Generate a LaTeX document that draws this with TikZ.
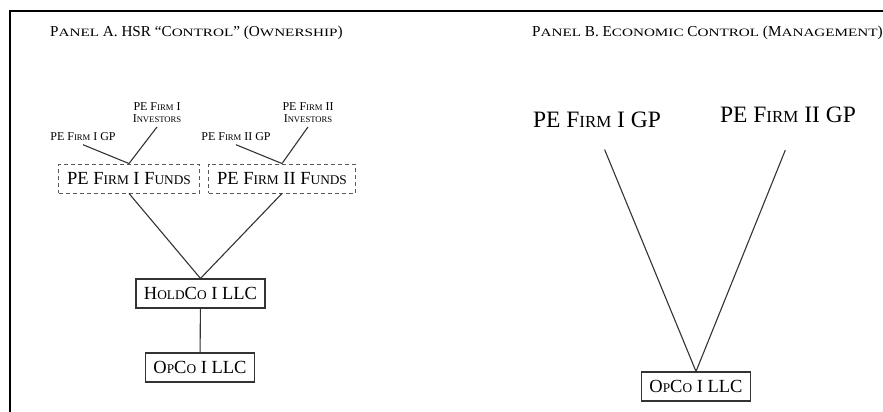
\documentclass[tikz,border=0pt]{standalone}
\usepackage{fontspec}
\setmainfont{Liberation Serif}
\newfontfamily\widesc[FakeStretch=1.35]{Liberation Serif}
\usepackage{tikz}
\usetikzlibrary{positioning}

% faked small capitals (lower part of a word set smaller)
\makeatletter
\newcommand\lowsc[1]{{\fontsize{\fpeval{0.72*\f@size}}{0}\selectfont #1}}
\newcommand\titlesc[1]{{\widesc\fontsize{\fpeval{0.74*\f@size}}{0}\selectfont #1}}
\makeatother

\tikzset{
  fundbox/.style={draw=black!65,dash pattern=on 4pt off 3pt,line width=0.9pt,
                  inner xsep=8.5pt,minimum height=29pt,font=\fontsize{18.5}{21}\selectfont},
  entbox/.style={draw=black!80,line width=1.1pt,inner xsep=8pt,minimum height=29pt,
                 font=\fontsize{18.5}{21}\selectfont},
  smalllbl/.style={font=\fontsize{12}{12.5}\selectfont,align=center,inner sep=4pt},
  biglbl/.style={font=\fontsize{23.5}{25}\selectfont,inner sep=3pt},
  paneltitle/.style={font=\fontsize{15.2}{17}\selectfont,inner sep=0pt},
  link/.style={black!80,line width=1.1pt}
}

\begin{document}
\begin{tikzpicture}[x=1pt,y=-1pt]
  \useasboundingbox (0,0) rectangle (883,412);
  \draw[line width=2pt] (9.5,412) -- (9.5,11) -- (883,11);

  % panel A
  \node[paneltitle,anchor=base west] (titleA) at (50,36.5)
    {P\titlesc{ANEL} A. HSR ``C\titlesc{ONTROL}'' (O\titlesc{WNERSHIP})};

  \node[fundbox] (fundsI) at (129,178.5) {PE F\lowsc{IRM} I F\lowsc{UNDS}};
  \node[fundbox] (fundsII) at (282,178.5) {PE F\lowsc{IRM} II F\lowsc{UNDS}};

  \node[smalllbl] (gpI) at (83,136.5) {PE F\lowsc{IRM} I GP};
  \node[smalllbl] (invI) at (157,112.5) {PE F\lowsc{IRM} I\\I\lowsc{NVESTORS}};
  \node[smalllbl] (gpII) at (236,136.5) {PE F\lowsc{IRM} II GP};
  \node[smalllbl] (invII) at (308,112.5) {PE F\lowsc{IRM} II\\I\lowsc{NVESTORS}};

  \node[entbox] (holdco) at (200.5,293.5) {H\lowsc{OLD}C\lowsc{O} I LLC};
  \node[entbox] (opcoA) at (200,367.5) {O\lowsc{P}C\lowsc{O} I LLC};

  \draw[link] (gpI.south) -- (fundsI.north);
  \draw[link] (invI.south) -- (fundsI.north);
  \draw[link] (gpII.south) -- (fundsII.north);
  \draw[link] (invII.south) -- (fundsII.north);
  \draw[link] (fundsI.south) -- (holdco.north);
  \draw[link] (fundsII.south) -- (holdco.north);
  \draw[link] (holdco) -- (opcoA);

  % panel B
  \node[paneltitle,anchor=base west] (titleB) at (532,36.7)
    {P\titlesc{ANEL} B. E\titlesc{CONOMIC} C\titlesc{ONTROL} (M\titlesc{ANAGEMENT})};

  \node[biglbl] (gpbI) at (597,120) {PE F\lowsc{IRM} I GP};
  \node[biglbl] (gpbII) at (788,115) {PE F\lowsc{IRM} II GP};
  \node[entbox] (opcoB) at (696,386.5) {O\lowsc{P}C\lowsc{O} I LLC};

  \draw[link,shorten <=20pt] (gpbI.south) -- (opcoB.north);
  \draw[link,shorten <=26pt] ([xshift=7pt]gpbII.south) -- (opcoB.north);
\end{tikzpicture}
\end{document}
